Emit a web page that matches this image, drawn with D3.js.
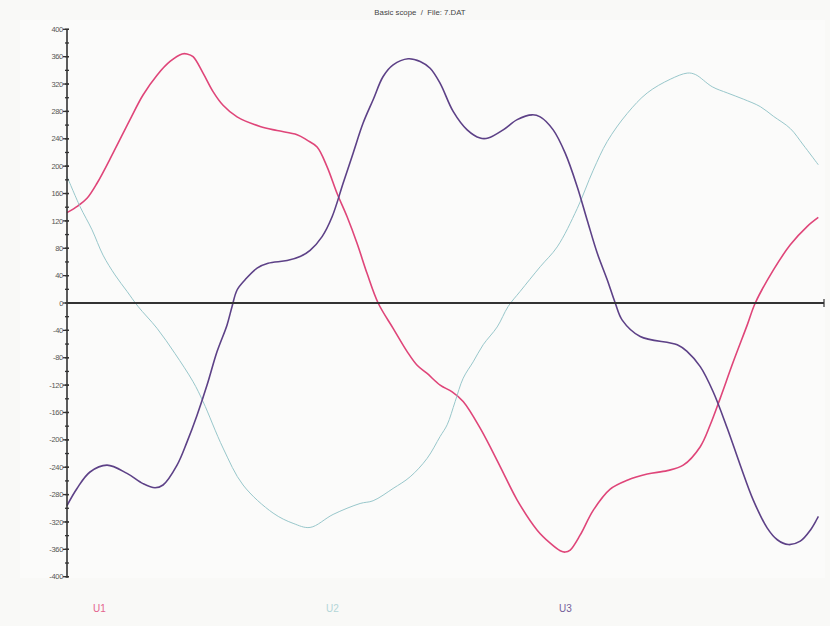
<!DOCTYPE html>
<html>
<head>
<meta charset="utf-8">
<script src="https://cdn.jsdelivr.net/npm/d3@7"></script>
<style>
  html, body { margin: 0; padding: 0; background: #f9f9f7; }
  svg { display: block; font-family: "Liberation Sans", Arial, sans-serif; }
</style>
</head>
<body>
<svg id="chart" width="830" height="626"></svg>
<script>
// Scope traces: sample index and voltage per channel
const u1Samples = [0,11,20,30,46,63,76,90,103,115,120,126,136,146,156,170,193,210,230,240,250,260,270,280,290,300,311,326,340,350,360,373,385,396,413,433,450,470,483,493,498,503,513,526,543,560,580,600,616,633,643,653,666,680,688,706,723,740,751];
const u1Values  = [132,142,153,175,219,268,304,333,353,364,364,360,336,309,289,272,258,252,246,238,228,199,160,126,87,43,0,-37,-71,-91,-103,-120,-130,-144,-183,-239,-288,-332,-351,-362,-364,-361,-339,-303,-272,-259,-250,-245,-237,-210,-178,-139,-86,-32,0,48,85,112,125];

const u2Samples = [0,13,25,36,48,60,71,90,108,126,136,156,176,206,226,243,266,293,306,326,343,360,373,380,388,396,406,416,430,441,453,473,490,510,526,540,560,580,603,620,628,645,660,676,693,706,723,736,751];
const u2Values  = [185,141,107,70,41,17,-5,-37,-74,-115,-144,-212,-266,-307,-322,-328,-309,-293,-289,-271,-254,-227,-195,-178,-144,-110,-86,-61,-35,-5,17,53,82,138,194,236,277,307,327,336,334,316,307,298,287,273,255,231,202];

const u3Samples = [0,10,23,40,60,76,88,96,110,120,130,140,150,160,165,170,178,190,201,220,233,243,255,265,276,286,296,306,316,326,341,353,363,373,386,400,413,421,436,450,465,473,486,498,510,520,530,540,548,555,573,610,620,633,646,660,673,686,700,710,721,733,743,751];
const u3Values  = [-296,-271,-247,-237,-249,-264,-270,-266,-237,-203,-164,-120,-71,-32,-5,19,34,51,58,62,68,77,97,126,175,219,263,297,331,348,357,353,343,321,280,253,241,241,253,268,275,272,253,219,170,121,73,34,0,-25,-49,-61,-71,-93,-130,-183,-237,-288,-329,-346,-353,-348,-332,-312];

const channelNames  = ["U1", "U2", "U3"];
const channelColors = ["#df4579", "#98c7cb", "#5d4187"];
const legendColors  = ["#e4638e", "#b4d6d8", "#76609a"];
const yTickValues = d3.range(-400, 401, 40);
const yMinorValues = d3.range(-400, 401, 20);
const titleText = "Basic scope  /  File: 7.DAT";

const svg = d3.select("#chart");

const x = d3.scaleLinear().domain([0, 751]).range([67, 818.3]);
const y = d3.scaleLinear().domain([-400, 400]).range([576.7, 29.3]);

// plot panel
svg.append("rect")
  .attr("x", 20).attr("y", 20)
  .attr("width", 805).attr("height", 558)
  .attr("fill", "#fbfbfa");

// title
svg.append("text")
  .attr("x", 420).attr("y", 15)
  .attr("text-anchor", "middle")
  .attr("font-size", 7.8)
  .attr("fill", "#444")
  .style("white-space", "pre")
  .text(titleText);

// traces
const series = [
  { t: u1Samples, v: u1Values, w: 1.6 },
  { t: u2Samples, v: u2Values, w: 1.0 },
  { t: u3Samples, v: u3Values, w: 1.6 }
];
const line = d3.line()
  .x(d => x(d[0]))
  .y(d => y(d[1]))
  .curve(d3.curveCatmullRom.alpha(0.5));

series.forEach((s, i) => {
  const pts = s.t.map((t, k) => [t, s.v[k]]);
  svg.append("path")
    .datum(pts)
    .attr("d", line)
    .attr("fill", "none")
    .attr("stroke", channelColors[i])
    .attr("stroke-width", s.w)
    .attr("stroke-linejoin", "round");
});

// y axis with major and minor ticks
const yAxisG = svg.append("g").attr("transform", `translate(${x(0)},0)`);
yAxisG.selectAll("line.minor")
  .data(yMinorValues)
  .join("line")
  .attr("class", "minor")
  .attr("x1", -2).attr("x2", 2)
  .attr("y1", d => y(d)).attr("y2", d => y(d))
  .attr("stroke", "#333").attr("stroke-width", 1.3);
yAxisG.selectAll("line.major")
  .data(yTickValues)
  .join("line")
  .attr("class", "major")
  .attr("x1", -4).attr("x2", 2)
  .attr("y1", d => y(d)).attr("y2", d => y(d))
  .attr("stroke", "#333").attr("stroke-width", 1.3);
yAxisG.append("line")
  .attr("x1", 0).attr("x2", 0)
  .attr("y1", y(400)).attr("y2", y(-400) + 1)
  .attr("stroke", "#333").attr("stroke-width", 1.6);
yAxisG.selectAll("text")
  .data(yTickValues)
  .join("text")
  .attr("x", -4)
  .attr("y", d => y(d))
  .attr("dy", "0.35em")
  .attr("text-anchor", "end")
  .attr("font-size", 7.5)
  .attr("letter-spacing", "-0.3")
  .attr("fill", "#555")
  .text(d => d);

// x axis (zero line) with end marker
svg.append("line")
  .attr("x1", x(0)).attr("x2", 824)
  .attr("y1", y(0)).attr("y2", y(0))
  .attr("stroke", "#333").attr("stroke-width", 1.8);
svg.append("line")
  .attr("x1", 824).attr("x2", 824)
  .attr("y1", y(0) - 4).attr("y2", y(0) + 4)
  .attr("stroke", "#333").attr("stroke-width", 1.2);

// legend
const legendX = d3.scalePoint().domain(channelNames).range([93, 559]);
svg.selectAll("text.legend")
  .data(channelNames)
  .join("text")
  .attr("class", "legend")
  .attr("x", d => legendX(d))
  .attr("y", 612)
  .attr("font-size", 10)
  .attr("fill", (d, i) => legendColors[i])
  .text(d => d);
</script>
</body>
</html>
